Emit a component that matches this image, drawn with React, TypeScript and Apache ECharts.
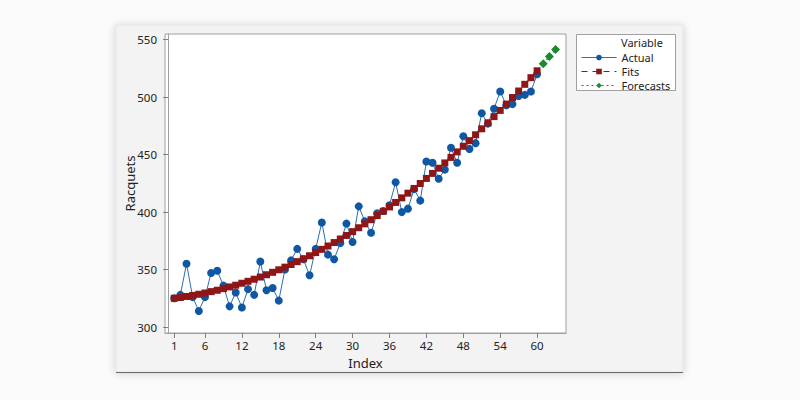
import React, { useEffect, useRef } from "react";
import * as echarts from "echarts";

const xTicks = [1, 6, 12, 18, 24, 30, 36, 42, 48, 54, 60];
const yTicks = [300, 350, 400, 450, 500, 550];

const actual = [
  325, 328, 355, 326, 314, 326, 347, 349, 336, 318,
  330, 317, 333, 328, 357, 332, 334, 323, 350, 358,
  368, 359, 345, 368, 391, 363, 359, 373, 390, 374,
  405, 392, 382, 399, 401, 406, 426, 400, 403, 420,
  410, 444, 443, 429, 437, 456, 443, 466, 455, 460,
  486, 477, 490, 505, 493, 494, 501, 502, 505, 520,
];

const fits = [
  325.0, 325.7, 326.6, 327.5, 328.5, 329.6, 330.8, 332.0, 333.4, 334.9,
  336.4, 338.1, 339.8, 341.6, 343.5, 345.5, 347.6, 349.8, 352.1, 354.4,
  356.9, 359.4, 362.0, 364.8, 367.6, 370.5, 373.5, 376.6, 379.7, 383.0,
  386.4, 389.8, 393.4, 397.0, 400.7, 404.5, 408.4, 412.4, 416.5, 420.6,
  424.9, 429.3, 433.7, 438.2, 442.8, 447.6, 452.4, 457.3, 462.2, 467.3,
  472.5, 477.7, 483.1, 488.5, 494.0, 499.7, 505.4, 511.2, 517.0, 523.0,
];

const forecastIndex = [61, 62, 63];
const forecasts = [529.2, 535.4, 541.6];

const BLUE = "#0f56a3";
const RED = "#8e1616";
const GREEN = "#1a8a2c";
const FONT = "Noto Sans";

export default function App() {
  const ref = useRef<HTMLDivElement>(null);
  useEffect(() => {
    if (!ref.current) return;
    const chart = echarts.init(ref.current, null, { renderer: "svg" });
    const actualData = actual.map((v, i) => [i + 1, v]);
    const fitsData = fits.map((v, i) => [i + 1, v]);
    const fcData = forecasts.map((v, i) => [forecastIndex[i], v]);
    chart.setOption({
      animation: false,
      backgroundColor: "#fbfbfb",
      textStyle: { fontFamily: FONT },
      graphic: [
        {
          type: "rect",
          shape: { x: 116, y: 25, width: 567, height: 347 },
          style: {
            fill: "#f3f3f3",
            stroke: "#e4e4e4",
            lineWidth: 1,
            shadowBlur: 8,
            shadowColor: "rgba(0,0,0,0.18)",
            shadowOffsetY: 1,
          },
          z: -10,
        },
        {
          type: "line",
          shape: { x1: 116, y1: 372.5, x2: 683, y2: 372.5 },
          style: { stroke: "#6a6a6a", lineWidth: 1.2 },
          z: -9,
        },
        {
          type: "rect",
          shape: { x: 576.5, y: 34.5, width: 99, height: 56 },
          style: { fill: "#ffffff", stroke: "#a0a0a0", lineWidth: 1 },
          z: 1,
        },
        {
          type: "text",
          x: 621,
          y: 42.5,
          style: {
            text: "Variable",
            fontSize: 11,
            fontFamily: FONT,
            fill: "#222",
            verticalAlign: "middle",
          },
          z: 2,
        },
      ],
      grid: {
        left: 165,
        top: 34,
        right: 234,
        bottom: 67,
        show: true,
        backgroundColor: "#ffffff",
        borderColor: "#a0a0a0",
        borderWidth: 1,
      },
      legend: {
        orient: "vertical",
        left: 581,
        top: 51,
        padding: 0,
        itemWidth: 35,
        itemHeight: 7,
        itemGap: 1,
        lineStyle: { width: 1 },
        textStyle: { fontSize: 11, color: "#222", fontFamily: FONT, lineHeight: 13 },
        data: ["Actual", "Fits", "Forecasts"],
        z: 3,
      },
      xAxis: {
        type: "value",
        min: -0.5,
        max: 64.7,
        name: "Index",
        nameLocation: "middle",
        nameGap: 23,
        nameMoveOverlap: false,
        nameTextStyle: { fontSize: 13, color: "#222", fontFamily: FONT },
        axisLine: { show: true, lineStyle: { color: "#a0a0a0" } },
        axisTick: {
          show: true,
          length: 5,
          customValues: xTicks,
          lineStyle: { color: "#808080" },
        },
        axisLabel: {
          customValues: xTicks,
          fontSize: 11.5,
          color: "#222",
          margin: 6,
          fontFamily: FONT,
        },
        splitLine: { show: false },
      },
      yAxis: {
        type: "value",
        min: 294.8,
        max: 555,
        name: "Racquets",
        nameLocation: "middle",
        nameGap: 29,
        nameMoveOverlap: false,
        nameTextStyle: { fontSize: 13, color: "#222", fontFamily: FONT },
        axisLine: { show: true, lineStyle: { color: "#a0a0a0" } },
        axisTick: {
          show: true,
          length: 5,
          customValues: yTicks,
          lineStyle: { color: "#808080" },
        },
        axisLabel: {
          customValues: yTicks,
          fontSize: 11.5,
          color: "#222",
          margin: 8,
          fontFamily: FONT,
        },
        splitLine: { show: false },
      },
      series: [
        {
          name: "Actual",
          type: "line",
          data: actualData,
          symbol: "circle",
          symbolSize: 8,
          showAllSymbol: true,
          lineStyle: { color: "#2c6db3", width: 1 },
          itemStyle: { color: BLUE },
          z: 2,
        },
        {
          name: "Fits",
          type: "line",
          data: fitsData,
          symbol: "rect",
          symbolSize: 7,
          showAllSymbol: true,
          lineStyle: { color: RED, width: 1.5, type: [6, 5] },
          itemStyle: { color: RED },
          z: 3,
        },
        {
          name: "Forecasts",
          type: "line",
          data: fcData,
          symbol: "diamond",
          symbolSize: 9,
          showAllSymbol: true,
          lineStyle: { color: GREEN, width: 1.5, type: [2, 3] },
          itemStyle: { color: GREEN },
          z: 4,
        },
      ],
    });
    return () => chart.dispose();
  }, []);
  return (
    <div
      ref={ref}
      style={{ position: "fixed", left: 0, top: 0, width: 800, height: 400 }}
    />
  );
}
